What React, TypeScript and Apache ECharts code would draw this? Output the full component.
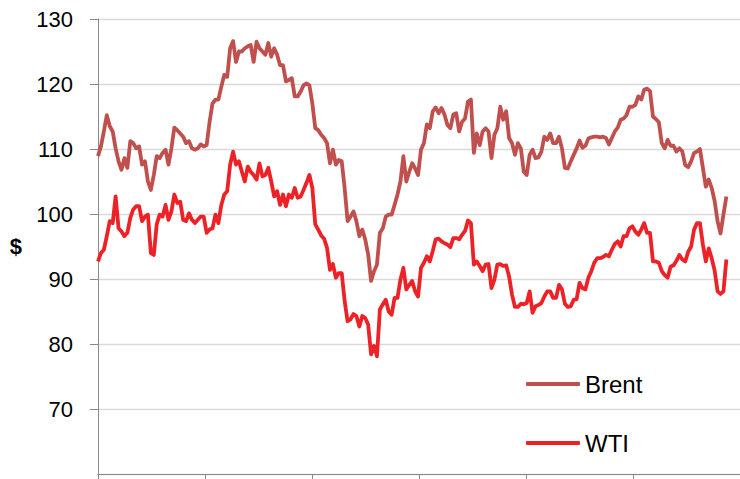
import React, { useEffect, useRef } from "react";
import * as echarts from "echarts";

// Daily closing prices ($/bbl) (evenly spaced samples)
const brent: number[] = [
  108.9, 110.4, 112.7, 115.2, 113.5, 112.7, 110.1, 108.1, 106.8, 108.6,
  107.1, 111.2, 110.9, 110.1, 110.4, 107.6, 108.1, 105.0, 103.7, 106.0,
  108.9, 108.6, 109.4, 109.9, 107.6, 110.1, 113.3, 112.9, 112.4, 111.9,
  110.9, 111.2, 110.1, 109.9, 110.1, 110.7, 110.4, 110.6, 114.2, 117.0,
  117.6, 117.6, 119.6, 121.4, 121.1, 125.5, 126.6, 123.4, 125.0, 125.0,
  125.5, 125.8, 126.0, 123.4, 126.5, 125.5, 125.0, 124.5, 126.3, 124.2,
  125.5, 124.5, 122.9, 122.9, 120.4, 120.6, 120.9, 118.1, 118.1, 118.8,
  119.8, 120.1, 119.8, 117.0, 113.2, 112.9, 112.2, 111.7, 110.9, 107.8,
  109.9, 107.6, 108.3, 108.1, 104.0, 98.9, 99.6, 100.4, 98.9, 96.6,
  97.6, 96.1, 93.8, 89.7, 91.2, 92.2, 97.1, 97.8, 99.6, 99.9,
  99.9, 101.4, 103.0, 105.0, 108.9, 105.0, 106.5, 107.8, 107.0, 106.0,
  109.9, 110.9, 113.8, 113.2, 115.8, 116.4, 115.5, 116.3, 115.3, 113.7,
  113.2, 115.3, 115.5, 112.7, 114.2, 114.7, 117.3, 117.6, 109.4, 112.4,
  110.6, 112.7, 113.2, 112.7, 108.6, 112.2, 113.2, 116.5, 114.5, 115.8,
  111.7, 110.9, 109.1, 110.9, 110.1, 106.5, 106.0, 109.1, 109.9, 108.6,
  108.7, 109.6, 111.9, 111.4, 112.4, 110.9, 110.9, 111.9, 110.1, 107.1,
  107.0, 108.1, 109.1, 110.1, 111.3, 110.2, 110.5, 111.6, 111.8, 111.9,
  111.9, 111.8, 111.9, 111.7, 110.7, 111.7, 112.7, 113.3, 114.5, 114.7,
  115.2, 116.5, 116.5, 116.8, 118.1, 117.6, 119.1, 119.3, 118.9, 115.0,
  114.6, 114.1, 110.9, 110.1, 111.4, 110.5, 110.5, 109.6, 110.1, 109.6,
  107.5, 107.2, 108.1, 109.4, 109.6, 110.0, 107.1, 104.2, 105.3, 104.0,
  102.0, 98.9, 97.0, 99.9, 102.7,
];

const wti: number[] = [
  92.7, 94.0, 94.5, 96.6, 98.9, 98.6, 102.7, 97.8, 97.3, 96.6,
  97.1, 99.4, 100.7, 101.2, 101.2, 98.9, 99.6, 99.9, 94.0, 93.7,
  98.4, 99.9, 99.6, 101.4, 99.1, 100.4, 103.0, 101.7, 101.9, 99.1,
  98.9, 100.1, 99.1, 98.6, 99.1, 99.6, 99.6, 97.1, 97.6, 97.8,
  99.9, 98.6, 101.4, 103.0, 103.5, 107.6, 109.6, 107.6, 108.1, 106.5,
  105.0, 107.3, 106.5, 106.0, 105.3, 107.8, 105.8, 106.0, 107.1, 105.0,
  102.7, 103.5, 101.4, 103.0, 101.2, 103.0, 102.5, 104.0, 102.5, 102.7,
  103.7, 104.8, 106.0, 104.0, 98.4, 97.6, 96.7, 96.2, 94.8, 91.4,
  92.3, 90.2, 90.9, 90.9, 86.6, 83.5, 83.8, 84.6, 84.3, 82.7,
  84.3, 84.0, 83.0, 78.4, 79.7, 78.1, 85.3, 86.1, 86.8, 85.0,
  84.5, 87.1, 87.1, 89.9, 91.7, 88.4, 89.1, 89.7, 88.1, 87.3,
  91.7, 92.5, 93.5, 92.7, 94.3, 96.1, 96.2, 95.8, 95.5, 95.3,
  94.9, 96.3, 96.3, 96.1, 96.8, 97.4, 99.0, 98.6, 92.2, 92.7,
  92.0, 91.2, 92.2, 92.3, 88.6, 89.9, 92.2, 92.3, 92.0, 92.1,
  90.4, 87.6, 85.7, 85.7, 86.2, 86.1, 86.3, 88.1, 84.8, 85.8,
  86.0, 86.3, 87.3, 88.1, 88.1, 87.1, 87.1, 89.1, 88.4, 86.2,
  85.7, 85.8, 86.8, 86.9, 89.4, 88.6, 88.4, 90.2, 91.2, 92.5,
  93.2, 93.2, 93.4, 93.7, 93.5, 94.5, 95.4, 95.8, 95.0, 96.6,
  96.6, 97.8, 98.1, 97.3, 96.8, 97.6, 98.6, 97.1, 97.1, 92.7,
  92.7, 92.5, 91.2, 90.6, 90.2, 91.9, 92.1, 92.8, 93.7, 93.0,
  92.7, 94.2, 95.0, 97.6, 98.6, 98.6, 95.3, 92.7, 94.7, 93.2,
  91.3, 88.1, 87.7, 88.1, 93.0,
];

const seriesNames = ["Brent", "WTI"];
const yTicks = { min: 60, max: 130, step: 10 };
const samplesPerTick = 36.44; // evenly spaced samples between two x-axis ticks
const xTickCount = 6;

const BRENT_COLOR = "#C0504D";
const WTI_COLOR = "#ED2227";
const FONT = "'Liberation Sans', Arial, sans-serif";

export default function App() {
  const ref = useRef<HTMLDivElement>(null);

  useEffect(() => {
    if (!ref.current) return;
    const chart = echarts.init(ref.current, null, { renderer: "svg" });
    const toPoints = (arr: number[]) => arr.map((v, i) => [i, v]);
    const legendBase = {
      orient: "vertical" as const,
      left: 526,
      padding: 0,
      itemWidth: 54,
      itemHeight: 4,
      icon: "roundRect",
      textStyle: { fontSize: 24, color: "#000", fontFamily: FONT },
    };
    chart.setOption({
      animation: false,
      backgroundColor: "#fff",
      grid: { left: 98, top: 19, right: -14, bottom: 5, containLabel: false },
      xAxis: {
        type: "value",
        min: 0,
        max: samplesPerTick * xTickCount,
        interval: samplesPerTick,
        axisLine: { show: true, onZero: false, lineStyle: { color: "#898989", width: 1 } },
        axisTick: { show: true, inside: false, length: 7, lineStyle: { color: "#898989", width: 1 } },
        axisLabel: { show: false },
        splitLine: { show: false },
      },
      yAxis: {
        type: "value",
        min: yTicks.min,
        max: yTicks.max,
        interval: yTicks.step,
        name: "$",
        nameLocation: "middle",
        nameRotate: 0,
        nameGap: 76,
        nameTextStyle: { fontSize: 22, fontWeight: "bold", color: "#000", fontFamily: FONT },
        axisLine: { show: true, lineStyle: { color: "#898989", width: 1 } },
        axisTick: { show: true, inside: false, length: 8, lineStyle: { color: "#898989", width: 1 } },
        axisLabel: {
          showMinLabel: false,
          margin: 25,
          fontSize: 22,
          color: "#000",
          fontFamily: FONT,
        },
        splitLine: { show: true, lineStyle: { color: "#D9D9D9", width: 1.3 } },
      },
      legend: [
        { ...legendBase, top: 372, data: [{ name: seriesNames[0], itemStyle: { color: BRENT_COLOR } }] },
        { ...legendBase, top: 431, data: [{ name: seriesNames[1], itemStyle: { color: WTI_COLOR } }] },
      ],
      series: [
        {
          name: seriesNames[0],
          type: "line",
          data: toPoints(brent),
          showSymbol: false,
          symbol: "none",
          smooth: false,
          lineStyle: { color: BRENT_COLOR, width: 3.8, join: "round" },
          itemStyle: { color: BRENT_COLOR },
        },
        {
          name: seriesNames[1],
          type: "line",
          data: toPoints(wti),
          showSymbol: false,
          symbol: "none",
          smooth: false,
          lineStyle: { color: WTI_COLOR, width: 3.8, join: "round" },
          itemStyle: { color: WTI_COLOR },
        },
      ],
    });
    return () => chart.dispose();
  }, []);

  return (
    <div
      ref={ref}
      style={{ position: "fixed", left: 0, top: 0, width: 740, height: 479, background: "#fff" }}
    />
  );
}
